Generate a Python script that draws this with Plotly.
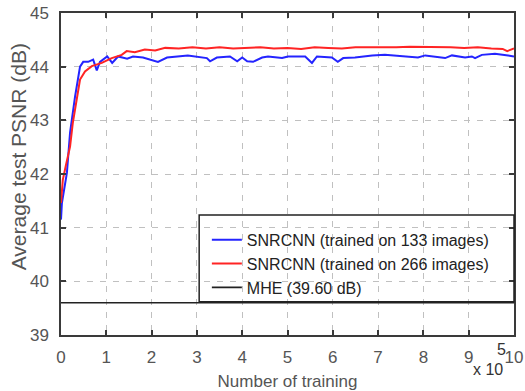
import plotly.graph_objects as go

# Number of training (x 10^5) and average test PSNR (dB)
blue_x = [0.0, 0.02, 0.13, 0.20, 0.31, 0.38, 0.42, 0.49, 0.60, 0.71, 0.79, 0.86, 1.02, 1.13, 1.26,
          1.46, 1.59, 1.81, 2.03, 2.14, 2.34, 2.63, 2.80, 3.22, 3.29, 3.44, 3.73, 3.89, 4.00, 4.11,
          4.24, 4.44, 4.57, 4.88, 5.01, 5.39, 5.54, 5.65, 5.98, 6.11, 6.23, 6.49, 6.87, 7.15, 7.53,
          7.88, 8.04, 8.48, 8.63, 8.92, 9.07, 9.14, 9.29, 9.58, 9.87, 10.0]
blue_y = [41.15, 41.46, 42.02, 42.77, 43.44, 43.85, 44.00, 44.09, 44.09, 44.13, 43.93, 44.09, 44.19,
          44.07, 44.19, 44.15, 44.19, 44.17, 44.11, 44.09, 44.17, 44.19, 44.21, 44.16, 44.10, 44.17,
          44.19, 44.10, 44.17, 44.10, 44.09, 44.17, 44.19, 44.16, 44.19, 44.19, 44.07, 44.19, 44.17,
          44.09, 44.16, 44.17, 44.21, 44.22, 44.19, 44.17, 44.21, 44.16, 44.21, 44.17, 44.19, 44.16,
          44.22, 44.24, 44.21, 44.19]

red_x = [0.0, 0.04, 0.11, 0.20, 0.26, 0.35, 0.38, 0.42, 0.53, 0.68, 0.90, 1.12, 1.34, 1.45, 1.63,
         1.85, 2.08, 2.30, 2.6, 2.9, 3.2, 3.5, 3.8, 4.1, 4.4, 4.7, 5.0, 5.3, 5.6, 5.9, 6.2, 6.5, 6.8,
         7.1, 7.4, 7.7, 8.0, 8.3, 8.6, 8.9, 9.2, 9.5, 9.75, 9.85, 10.0]
red_y = [41.46, 41.89, 42.17, 42.51, 42.95, 43.38, 43.57, 43.76, 43.91, 44.01, 44.07, 44.16, 44.22,
         44.29, 44.27, 44.32, 44.30, 44.35, 44.34, 44.36, 44.34, 44.36, 44.34, 44.35, 44.36, 44.34,
         44.35, 44.33, 44.36, 44.35, 44.34, 44.36, 44.36, 44.35, 44.36, 44.37, 44.37, 44.36, 44.36,
         44.35, 44.36, 44.34, 44.33, 44.29, 44.34]

mhe_x = [0, 10]
mhe_y = [39.60, 39.60]

series_names = ["SNRCNN (trained on 133 images)", "SNRCNN (trained on 266 images)", "MHE (39.60 dB)"]

FONT = "Liberation Sans, Arial, sans-serif"
AX = "#3a3a3a"
TXT = "#555555"

fig = go.Figure()
fig.add_trace(go.Scatter(x=blue_x, y=blue_y, mode="lines", name=series_names[0],
                         line=dict(color="#2424ff", width=2)))
fig.add_trace(go.Scatter(x=red_x, y=red_y, mode="lines", name=series_names[1],
                         line=dict(color="#ff2424", width=2)))
fig.add_trace(go.Scatter(x=mhe_x, y=mhe_y, mode="lines", name=series_names[2],
                         line=dict(color="#222222", width=1.6)))

axis_common = dict(showline=True, linecolor=AX, linewidth=1.5, mirror="allticks",
                   ticks="inside", ticklen=5, tickcolor=AX, tickwidth=1.5,
                   showgrid=True, gridcolor="rgb(192,192,192)", gridwidth=1, griddash="6px,7px",
                   zeroline=False, automargin=False,
                   tickfont=dict(family=FONT, size=17, color=TXT))

fig.update_xaxes(range=[0, 10], tickmode="linear", tick0=0, dtick=1, ticklabelstandoff=6,
                 title=dict(text="Number of training", font=dict(family=FONT, size=17, color=TXT),
                            standoff=10),
                 **axis_common)
fig.update_yaxes(range=[39, 45], tickmode="linear", tick0=39, dtick=1, ticklabelstandoff=7,
                 **axis_common)

fig.add_annotation(xref="paper", yref="paper", x=-0.095, y=0.555, text="Average test PSNR (dB)",
                   textangle=-90, showarrow=False, xanchor="center", yanchor="middle",
                   font=dict(family=FONT, size=21, color=TXT))
fig.add_annotation(xref="paper", yref="paper", x=0.942, y=-0.108, text="x 10", showarrow=False,
                   xanchor="center", yanchor="middle", font=dict(family=FONT, size=16, color="#333"))
fig.add_annotation(xref="paper", yref="paper", x=0.972, y=-0.045, text="5", showarrow=False,
                   xanchor="center", yanchor="middle", font=dict(family=FONT, size=16, color="#333"))

# legend box
fig.add_shape(type="rect", xref="paper", yref="paper", x0=0.305, x1=1.0, y0=0.103, y1=0.373,
              line=dict(color="#222222", width=1.5), fillcolor="rgba(0,0,0,0)")

fig.update_layout(
    template="none",
    width=525, height=391,
    margin=dict(l=61, r=11, t=13, b=56, autoexpand=False),
    paper_bgcolor="white", plot_bgcolor="white",
    font=dict(family=FONT, color=TXT),
    legend=dict(x=0.322, y=0.221, xanchor="left", yanchor="middle",
                bgcolor="rgba(0,0,0,0)", borderwidth=0,
                font=dict(family=FONT, size=16, color="#222"), tracegroupgap=0),
    showlegend=True,
)

fig.write_html("out.html")
